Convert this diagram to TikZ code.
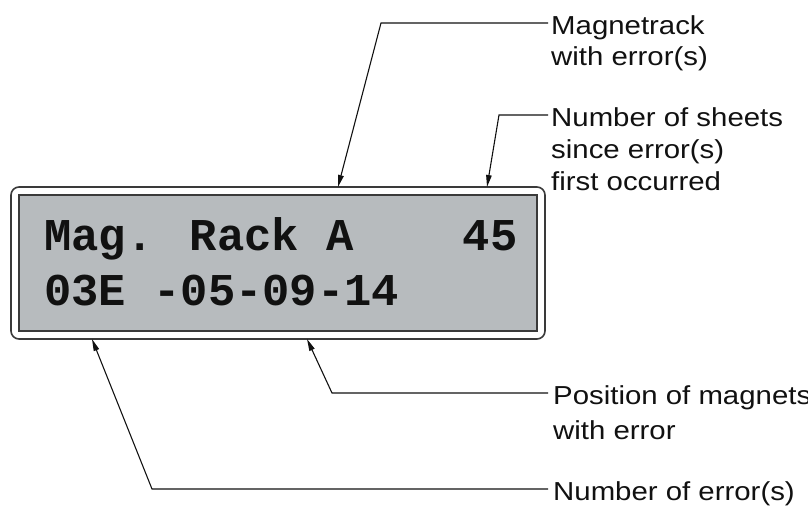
\documentclass[tikz,border=0pt]{standalone}
\usepackage{fontspec}
\usepackage{xcolor}
\usetikzlibrary{positioning,arrows.meta,calc}
\newfontfamily\lblfont{Liberation Sans}[FakeStretch=1.13]
\newfontfamily\lcdfont{Liberation Mono}
\definecolor{lcdbg}{HTML}{B7BBBE}
\definecolor{rim}{HTML}{3A3A3A}
\definecolor{ink}{HTML}{111111}
% first line of a stacked label carries the baseline
\newcommand{\stacked}[1]{\begin{tabular}[t]{@{}l@{}}#1\end{tabular}}

\begin{document}
\begin{tikzpicture}[x=1pt,y=-1pt,
  casebox/.style={draw=rim,line width=1.6pt,rounded corners=8pt,fill=white,inner sep=0pt},
  screen/.style={draw=rim,line width=1.6pt,fill=lcdbg,inner sep=0pt},
  lcd/.style={font=\lcdfont\bfseries\fontsize{45.5}{55}\selectfont,text=ink,inner sep=0pt,anchor=base west},
  lbl/.style={font=\lblfont\fontsize{26}{32}\selectfont,text=ink,inner sep=0pt,anchor=base west},
  lead/.style={draw=ink,line width=1.1pt},
  arr/.style={lead,-{Triangle[length=12pt,width=5.5pt]}}]
  \useasboundingbox (0,0) rectangle (808,506);

  % display
  \node[casebox,minimum width=534pt,minimum height=152pt] (case) at (278,263) {};
  \node[screen,minimum width=518pt,minimum height=136pt] (lcd) at (278,263) {};
  \node[lcd] (row1) at (44,250) {Mag. Rack A\ \ \ \ 45};
  \node[lcd] (row2) at (44,305) {03E -05-09-14};

  % callouts
  \node[lbl] (track) at (551,34) {\stacked{Magnetrack\\with error(s)}};
  \node[lbl] (sheets) at (551,126) {\stacked{Number of sheets\\since error(s)\\first occurred}};
  \node[lbl] (pos) at (553,404) {\stacked{Position of magnets\\[3pt]with error}};
  \node[lbl] (count) at (553,500) {Number of error(s)};

  \coordinate (bendA) at (381,23);
  \coordinate (bendB) at (499,115);
  \coordinate (bendC) at (332,393);
  \coordinate (bendD) at (152,489);
  \coordinate (tipA) at (338,187);
  \coordinate (tipB) at (487,187);
  \coordinate (tipC) at (307,339);
  \coordinate (tipD) at (92,339);

  \draw[arr] ([xshift=-3pt,yshift=11pt]track.base west) -- (bendA) -- (tipA);
  \draw[arr] ([xshift=-3pt,yshift=11pt]sheets.base west) -- (bendB) -- (tipB);
  \draw[arr] ([xshift=-5pt,yshift=11pt]pos.base west) -- (bendC) -- (tipC);
  \draw[arr] ([xshift=-5pt,yshift=11pt]count.base west) -- (bendD) -- (tipD);
\end{tikzpicture}
\end{document}
